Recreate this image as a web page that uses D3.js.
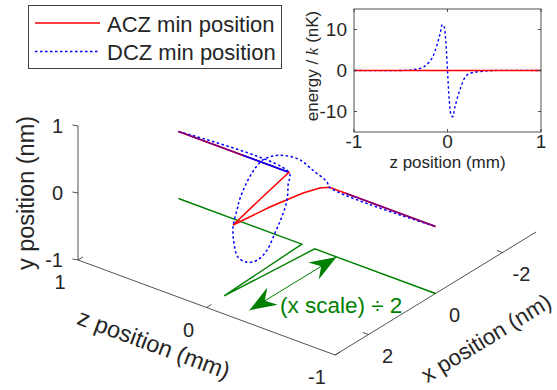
<!DOCTYPE html>
<html>
<head>
<meta charset="utf-8">
<script src="https://cdn.jsdelivr.net/npm/d3@7"></script>
<style>
body { margin: 0; background: #fff; }
svg text { font-family: "Liberation Sans", Arial, sans-serif; fill: #262626; }
</style>
</head>
<body>
<svg id="chart" width="557" height="390"></svg>
<script>
// ---- data ----
// ACZ min position: x(z), y stays 0
const aczZ = [1, 0.14, 0.07, -0.006, -0.042, -0.092, -0.134, -0.175, -1];
const aczX = [0, 0, 1.1, 2.23, 1.27, 0.47, 0.13, 0, 0];
const aczY = [0, 0, 0, 0, 0, 0, 0, 0, 0];

// DCZ min position: loops round once near z = 0
const dczZ = [1, 0.14, 0.126, 0.111, 0.092, 0.074, 0.054, 0.039, 0.029, 0.018, 0.003, -0.014,
              -0.032, -0.045, -0.074, -0.092, -0.106, -0.118, -0.133, -0.15, -0.169, -0.175, -1];
const dczX = [0, 0, 0.08, 0.17, 0.40, 0.67, 0.99, 1.34, 1.68, 1.99, 2.17, 2.26,
              2.21, 2.17, 1.93, 1.67, 1.36, 1.05, 0.72, 0.40, 0.05, 0, 0];
const dczY = [0, 0, -0.15, -0.34, -0.51, -0.65, -0.80, -0.83, -0.75, -0.57, -0.29, -0.01,
              0.24, 0.41, 0.73, 0.86, 0.84, 0.75, 0.60, 0.36, 0.09, 0, 0];

// both curves on top of each other (drawn purple), and the stretch where blue covers red
const overlapZ = [[1, 0.5], [-0.3, -1]];
const blueOverZ = [0.5, 0.15];

// x component drawn on the floor (y = -1)
const floorZ = [1, 0.04, 0.006, -0.06, -1];
const floorX = [0, 0, 2.45, 0, 0];
const floorY = -1;

// scale arrow
const arrowZ = -0.23;
const arrowX = [0, 2.6];
const arrowText = "(x scale) \u00f7 2";

// axis ticks
const xTicks = [-2, 0, 2];
const yTicks = [-1, 0, 1];
const zTicks = [-1, 0, 1];

// inset: energy / k vs z
const eZ = [-1, -0.5, -0.37, -0.26, -0.17, -0.12, -0.08, -0.055, -0.037, -0.019, 0,
            0.019, 0.037, 0.055, 0.08, 0.13, 0.2, 0.27, 0.37, 0.5, 1];
const eDCZ = [0, 0, 0.2, 0.8, 2.85, 5.7, 8.9, 11.2, 10.7, 7.3, 0,
              -7.3, -10.7, -11.3, -8.9, -4.9, -1.3, -0.5, -0.2, 0, 0];
const eAczZ = [-1, 1];
const eACZ = [0, 0];
const eXTicks = [-1, 0, 1];
const eYTicks = [-10, 0, 10];

const legendNames = ["ACZ min position", "DCZ min position"];

// ---- drawing ----
const RED = "#ff0000", BLUE = "#0000ff", GREEN = "#008000", PURPLE = "#800080", AX = "#262626";
const DOT = "2.5,2.5";

const svg = d3.select("#chart");
svg.append("rect").attr("width", 557).attr("height", 390).attr("fill", "#fff");

// 3d view: each data axis gives a screen offset
const zPos = d3.scaleLinear().domain([1, -1]).range([[0, 0], [257, 95]]);
const xPos = d3.scaleLinear().domain([3, -3]).range([[0, 0], [201, -123]]);
const yPos = d3.scaleLinear().domain([-1, 1]).range([260, 126]);
const X0 = 78;

function proj(x, y, z) {
    let a = zPos(z), b = xPos(x);
    return [X0 + a[0] + b[0], yPos(y) + a[1] + b[1]];
}

const line = d3.line();
const main = svg.append("g");

// axes lines
main.append("path")
    .attr("d", line([proj(3, 1, 1), proj(3, -1, 1), proj(3, -1, -1), proj(-3, -1, -1)]))
    .attr("fill", "none").attr("stroke", AX).attr("stroke-width", 0.8);

// y ticks
yTicks.forEach(t => {
    let p = proj(3, t, 1);
    main.append("line").attr("x1", p[0]).attr("y1", p[1]).attr("x2", p[0] - 5.6).attr("y2", p[1] - 1)
        .attr("stroke", AX).attr("stroke-width", 0.8);
    main.append("text").attr("x", p[0] - 15).attr("y", p[1]).attr("dy", "0.35em")
        .attr("text-anchor", "end").attr("font-size", 20).text(String(t));
});
// z ticks
zTicks.forEach(t => {
    let p = proj(3, -1, t);
    main.append("line").attr("x1", p[0]).attr("y1", p[1]).attr("x2", p[0] + 5).attr("y2", p[1] - 3)
        .attr("stroke", AX).attr("stroke-width", 0.8);
    main.append("text").attr("x", p[0] - 18).attr("y", p[1] + 22).attr("dy", "0.35em")
        .attr("text-anchor", "middle").attr("font-size", 20).text(String(t));
});
// x ticks
xTicks.forEach(t => {
    let p = proj(t, -1, -1);
    main.append("line").attr("x1", p[0]).attr("y1", p[1]).attr("x2", p[0] - 5.6).attr("y2", p[1] - 2)
        .attr("stroke", AX).attr("stroke-width", 0.8);
    main.append("text").attr("x", p[0] + 19).attr("y", p[1] + 21).attr("dy", "0.35em")
        .attr("text-anchor", "middle").attr("font-size", 20).text(String(t));
});

// axis labels
main.append("text").attr("transform", "translate(26,193) rotate(-90)")
    .attr("text-anchor", "middle").attr("dy", "0.35em").attr("font-size", 23.5).text("y position (nm)");
main.append("text").attr("transform", "translate(154,344) rotate(20.3)")
    .attr("text-anchor", "middle").attr("dy", "0.35em").attr("font-size", 23.5).text("z position (mm)");
main.append("text").attr("transform", "translate(486,338) rotate(-31.5)")
    .attr("text-anchor", "middle").attr("dy", "0.35em").attr("font-size", 22.5).text("x position (nm)");

// floor curve
main.append("path")
    .attr("d", line(floorZ.map((z, i) => proj(floorX[i], floorY, z))))
    .attr("fill", "none").attr("stroke", GREEN).attr("stroke-width", 1.4);

// ACZ
main.append("path")
    .attr("d", line(aczZ.map((z, i) => proj(aczX[i], aczY[i], z))))
    .attr("fill", "none").attr("stroke", RED).attr("stroke-width", 1.5);

// DCZ
main.append("path")
    .attr("d", d3.line().curve(d3.curveCatmullRom)(dczZ.map((z, i) => proj(dczX[i], dczY[i], z))))
    .attr("fill", "none").attr("stroke", BLUE).attr("stroke-width", 1.5).attr("stroke-dasharray", DOT);
main.append("path")
    .attr("d", line(blueOverZ.map(z => proj(0, 0, z))))
    .attr("fill", "none").attr("stroke", BLUE).attr("stroke-width", 1.6);

// overlapping parts
overlapZ.forEach(r => {
    main.append("path")
        .attr("d", line(r.map(z => proj(0, 0, z))))
        .attr("fill", "none").attr("stroke", PURPLE).attr("stroke-width", 1.6);
});

// scale arrow
const a0 = proj(arrowX[0], floorY, arrowZ), a1 = proj(arrowX[1], floorY, arrowZ);
main.append("line").attr("x1", a0[0]).attr("y1", a0[1]).attr("x2", a1[0]).attr("y2", a1[1])
    .attr("stroke", GREEN).attr("stroke-width", 1);

function head(tip, from) {
    let dx = tip[0] - from[0], dy = tip[1] - from[1], L = Math.hypot(dx, dy);
    let u = [dx / L, dy / L], n = [-u[1], u[0]];
    let len = 27, w = 10, notch = 18;
    return [
        tip,
        [tip[0] - len * u[0] + w * n[0], tip[1] - len * u[1] + w * n[1]],
        [tip[0] - notch * u[0], tip[1] - notch * u[1]],
        [tip[0] - len * u[0] - w * n[0], tip[1] - len * u[1] - w * n[1]]
    ];
}
[[a0, a1], [a1, a0]].forEach(([tip, from]) => {
    main.append("path").attr("d", line(head(tip, from)) + "Z").attr("fill", GREEN);
});
main.append("text").attr("x", 280).attr("y", 313).attr("font-size", 22.5)
    .style("fill", GREEN).text(arrowText);

// ---- legend ----
const leg = svg.append("g");
leg.append("rect").attr("x", 28.5).attr("y", 5.5).attr("width", 253).attr("height", 63)
    .attr("fill", "#fff").attr("stroke", "#404040").attr("stroke-width", 1);
legendNames.forEach((name, i) => {
    let y = 23 + i * 28.5;
    leg.append("line").attr("x1", 35).attr("x2", 100).attr("y1", y).attr("y2", y)
        .attr("stroke", i ? BLUE : RED).attr("stroke-width", 1.5)
        .attr("stroke-dasharray", i ? DOT : null);
    leg.append("text").attr("x", 107).attr("y", y + 8.5).attr("font-size", 22).text(name);
});

// ---- inset ----
const ex = d3.scaleLinear().domain([-1, 1]).range([354, 541]);
const ey = d3.scaleLinear().domain([-15, 15]).range([132, 9]);
const ins = svg.append("g");
ins.append("rect").attr("x", ex(-1)).attr("y", ey(15)).attr("width", ex(1) - ex(-1)).attr("height", ey(-15) - ey(15))
    .attr("fill", "#fff");
svg.append("clipPath").attr("id", "inclip").append("rect")
    .attr("x", ex(-1)).attr("y", ey(15)).attr("width", ex(1) - ex(-1)).attr("height", ey(-15) - ey(15));

const eLine = d3.line().x(d => ex(d[0])).y(d => ey(d[1]));
const plot = ins.append("g").attr("clip-path", "url(#inclip)");
plot.append("path")
    .attr("d", eLine.curve(d3.curveCatmullRom)(eZ.map((z, i) => [z, eDCZ[i]])))
    .attr("fill", "none").attr("stroke", BLUE).attr("stroke-width", 1.4).attr("stroke-dasharray", DOT);
plot.append("path")
    .attr("d", d3.line().x(d => ex(d[0])).y(d => ey(d[1]))(eAczZ.map((z, i) => [z, eACZ[i]])))
    .attr("fill", "none").attr("stroke", RED).attr("stroke-width", 1.5);

ins.append("rect").attr("x", ex(-1)).attr("y", ey(15)).attr("width", ex(1) - ex(-1)).attr("height", ey(-15) - ey(15))
    .attr("fill", "none").attr("stroke", AX).attr("stroke-width", 0.8);

eXTicks.forEach(t => {
    ins.append("line").attr("x1", ex(t)).attr("x2", ex(t)).attr("y1", ey(-15)).attr("y2", ey(-15) - 3)
        .attr("stroke", AX).attr("stroke-width", 0.8);
    ins.append("line").attr("x1", ex(t)).attr("x2", ex(t)).attr("y1", ey(15)).attr("y2", ey(15) + 3)
        .attr("stroke", AX).attr("stroke-width", 0.8);
    ins.append("text").attr("x", ex(t)).attr("y", 141).attr("dy", "0.35em")
        .attr("text-anchor", "middle").attr("font-size", 19).text(String(t));
});
eYTicks.forEach(t => {
    ins.append("line").attr("x1", ex(-1)).attr("x2", ex(-1) + 3).attr("y1", ey(t)).attr("y2", ey(t))
        .attr("stroke", AX).attr("stroke-width", 0.8);
    ins.append("line").attr("x1", ex(1)).attr("x2", ex(1) - 3).attr("y1", ey(t)).attr("y2", ey(t))
        .attr("stroke", AX).attr("stroke-width", 0.8);
    ins.append("text").attr("x", 347).attr("y", ey(t)).attr("dy", "0.35em")
        .attr("text-anchor", "end").attr("font-size", 19).text(String(t));
});

ins.append("text").attr("x", ex(0)).attr("y", 162).attr("dy", "0.35em")
    .attr("text-anchor", "middle").attr("font-size", 17).text("z position (mm)");
const yl = ins.append("text").attr("transform", "translate(312,66) rotate(-90)")
    .attr("text-anchor", "middle").attr("dy", "0.35em").attr("font-size", 17);
yl.append("tspan").text("energy / ");
yl.append("tspan").style("font-family", "'Liberation Serif', 'DejaVu Serif', serif").style("font-style", "italic").text("k");
yl.append("tspan").text(" (nK)");
</script>
</body>
</html>
